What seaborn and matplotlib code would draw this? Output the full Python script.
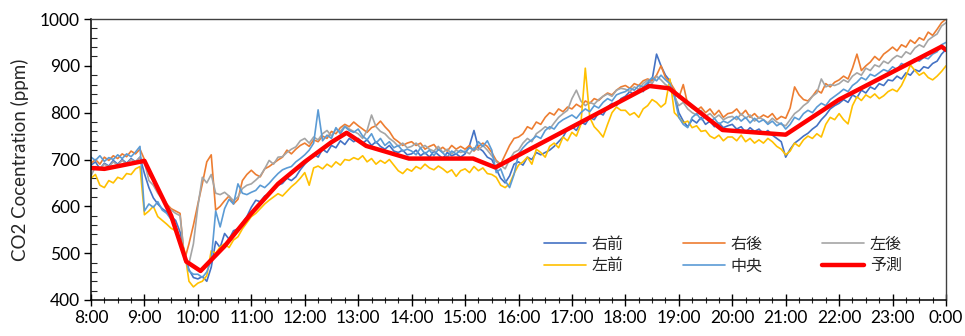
import numpy as np
import pandas as pd
import matplotlib
matplotlib.use("Agg")
import matplotlib.pyplot as plt
from matplotlib.ticker import MultipleLocator, FixedLocator
import seaborn as sns

# ---- data: CO2 readings every 5 minutes from 8:00 to 0:00 (one row per hour) ----
front_right = [  # 右前
    688, 695, 680, 692, 686, 698, 690, 700, 692, 702, 695, 705,
    670, 640, 618, 605, 595, 588, 578, 570, 545, 500, 465, 448,
    445, 450, 440, 470, 525, 512, 542, 530, 548, 552, 565, 578,
    598, 613, 610, 622, 627, 640, 645, 649, 660, 655, 663, 678,
    690, 700, 712, 705, 722, 715, 730, 725, 740, 732, 745, 738,
    745, 735, 742, 730, 738, 728, 722, 730, 718, 715, 720, 710,
    712, 720, 708, 715, 705, 718, 710, 702, 715, 708, 712, 705,
    712, 730, 762, 725, 718, 705, 700, 680, 660, 650, 665, 690,
    695, 688, 705, 700, 715, 710, 715, 720, 728, 738, 748, 765,
    770, 762, 780, 775, 790, 785, 800, 795, 812, 820, 815, 830,
    835, 845, 838, 850, 845, 862, 870, 925, 900, 880, 868, 840,
    800, 782, 770, 785, 778, 790, 775, 782, 770, 778, 768, 772,
    775, 765, 770, 758, 768, 760, 765, 755, 762, 752, 745, 738,
    705, 722, 735, 742, 750, 756, 765, 772, 785, 795, 808, 815,
    820, 828, 822, 838, 832, 848, 842, 855, 850, 862, 858, 870,
    868, 878, 872, 885, 880, 892, 888, 898, 895, 905, 910, 925,
    935,
]
rear_right = [  # 右後
    692, 700, 690, 705, 698, 708, 702, 712, 706, 718, 712, 722,
    700, 668, 655, 635, 622, 605, 595, 590, 585, 485, 520, 560,
    605, 648, 695, 710, 592, 600, 612, 622, 605, 615, 655, 668,
    677, 668, 663, 680, 685, 692, 699, 705, 720, 712, 722, 730,
    735, 728, 742, 738, 750, 745, 760, 755, 768, 775, 770, 780,
    772, 765, 758, 768, 772, 782, 770, 760, 745, 738, 730, 735,
    738, 730, 735, 722, 728, 732, 720, 726, 718, 730, 722, 728,
    722, 730, 718, 728, 735, 728, 715, 698, 690, 710, 730, 745,
    748, 755, 770, 765, 780, 775, 790, 800, 795, 808, 802, 812,
    808, 818, 812, 825, 820, 830, 826, 835, 842, 838, 848, 855,
    858, 852, 862, 858, 868, 872, 868, 880, 900, 875, 865, 850,
    832, 860, 818, 810, 805, 812, 800, 808, 795, 805, 790, 798,
    800, 808, 795, 805, 790, 798, 788, 795, 790, 798, 785, 792,
    788, 810, 855, 838, 828, 825, 835, 848, 842, 862, 855, 865,
    870, 878, 872, 895, 925, 890, 900, 908, 920, 912, 925, 932,
    940, 932, 945, 940, 955, 948, 960, 955, 972, 965, 978, 992,
    1000,
]
rear_left = [  # 左後
    665, 685, 680, 690, 684, 695, 688, 698, 690, 700, 694, 705,
    695, 655, 645, 628, 615, 600, 592, 585, 580, 490, 478, 520,
    600, 662, 650, 668, 628, 625, 630, 622, 612, 620, 638, 645,
    648, 656, 665, 680, 698, 690, 705, 706, 715, 722, 727, 740,
    745, 735, 748, 742, 755, 762, 750, 765, 760, 772, 765, 760,
    755, 745, 762, 795, 770, 760, 755, 745, 738, 728, 735, 725,
    728, 735, 725, 730, 722, 718, 728, 715, 722, 712, 720, 715,
    718, 712, 725, 720, 730, 720, 708, 695, 688, 680, 700, 715,
    720, 735, 745, 738, 755, 762, 770, 765, 778, 790, 798, 805,
    830, 848, 825, 815, 822, 818, 828, 835, 840, 835, 848, 852,
    850, 845, 855, 850, 862, 870, 862, 878, 870, 860, 855, 835,
    815, 822, 808, 800, 795, 805, 792, 798, 788, 795, 785, 790,
    792, 785, 798, 788, 795, 782, 790, 785, 778, 788, 780, 775,
    772, 785, 798, 805, 815, 822, 835, 842, 872, 855, 860, 858,
    862, 870, 865, 878, 885, 880, 895, 890, 902, 898, 910, 905,
    915, 922, 918, 930, 925, 938, 945, 940, 955, 962, 968, 985,
    992,
]
front_left = [  # 左前
    660, 668, 645, 640, 655, 650, 662, 658, 670, 668, 680, 685,
    582, 590, 600, 578, 570, 562, 553, 548, 530, 505, 440, 428,
    436, 440, 452, 505, 500, 513, 520, 512, 528, 535, 552, 565,
    578, 585, 595, 605, 613, 620, 627, 622, 632, 642, 650, 660,
    672, 645, 682, 686, 680, 690, 684, 695, 688, 700, 698, 704,
    700, 708, 695, 702, 690, 698, 692, 700, 688, 676, 670, 680,
    675, 685, 680, 690, 682, 678, 686, 680, 672, 678, 664, 676,
    680, 672, 685, 676, 682, 670, 668, 662, 645, 640, 648, 670,
    688, 695, 705, 690, 722, 715, 705, 728, 735, 725, 748, 740,
    758, 750, 775, 895, 790, 770, 760, 748, 775, 800, 812, 805,
    805, 795, 800, 790, 808, 815, 828, 822, 812, 820, 872, 800,
    790, 778, 782, 768, 772, 760, 762, 750, 745, 752, 740, 748,
    748, 740, 752, 738, 745, 735, 742, 735, 745, 738, 728, 722,
    710, 718, 735, 728, 742, 750, 745, 755, 748, 775, 790, 785,
    798, 785, 776, 815, 834, 826, 838, 832, 840, 830, 836, 845,
    850, 845, 858, 878, 902, 890, 880, 886, 875, 870, 878, 888,
    900,
]
center = [  # 中央
    705, 698, 708, 696, 704, 700, 710, 702, 712, 706, 716, 728,
    590, 605, 598, 610, 592, 585, 572, 560, 528, 495, 462, 455,
    455, 448, 460, 485, 590, 556, 595, 615, 605, 648, 628, 625,
    630, 634, 645, 640, 649, 660, 670, 678, 682, 685, 695, 702,
    710, 720, 735, 806, 740, 752, 745, 768, 755, 770, 762, 758,
    765, 750, 742, 755, 735, 745, 730, 738, 725, 730, 718, 722,
    718, 710, 725, 712, 720, 708, 722, 714, 705, 718, 712, 720,
    715, 725, 720, 738, 728, 740, 720, 672, 680, 655, 640, 668,
    712, 725, 735, 742, 750, 745, 762, 770, 765, 778, 785, 790,
    795, 788, 800, 808, 802, 815, 810, 822, 830, 825, 838, 842,
    845, 852, 848, 858, 855, 865, 875, 868, 880, 870, 862, 835,
    790, 775, 768, 790, 798, 785, 792, 780, 788, 775, 782, 778,
    785, 792, 782, 790, 778, 788, 780, 785, 775, 782, 772, 778,
    765, 775, 790, 785, 798, 805, 800, 812, 820, 815, 828, 835,
    842, 850, 845, 858, 865, 875, 870, 882, 878, 885, 892, 888,
    898, 892, 905, 900, 908, 915, 910, 918, 915, 925, 930, 945,
    950,
]

# model prediction (piecewise)
pred_times = ["8:00", "8:15", "9:00", "9:30", "9:47", "10:03", "10:30", "11:00",
              "11:30", "12:00", "12:30", "12:47", "13:09", "13:57", "15:09",
              "15:34", "18:27", "18:49", "19:49", "21:00", "22:00", "23:55", "24:00"]
pred_values = [682, 680, 697, 580, 482, 462, 515, 585, 648, 695, 737, 757, 729,
               702, 702, 683, 857, 852, 763, 753, 828, 941, 934]

series_names = ["右前", "右後", "左後", "左前", "中央"]
series_colors = ["#4472C4", "#ED7D31", "#A5A5A5", "#FFC000", "#5B9BD5"]
pred_name = "予測"
pred_color = "#FF0000"

hour_ticks = list(range(8, 25))
hour_labels = [f"{h % 24}:00" for h in hour_ticks]


def to_hours(s):
    h, m = s.split(":")
    return int(h) + int(m) / 60.0


# ---- long-form table for seaborn ----
t_hours = 8 + np.arange(len(center)) * 5 / 60.0
frames = []
for name, vals in zip(series_names, [front_right, rear_right, rear_left, front_left, center]):
    frames.append(pd.DataFrame({"time": t_hours, "ppm": vals, "sensor": name}))
df = pd.concat(frames, ignore_index=True)
pred_df = pd.DataFrame({"time": [to_hours(s) for s in pred_times], "ppm": pred_values})

# ---- figure ----
sns.set_style("white")
plt.rcParams["font.family"] = ["Lato", "Noto Sans CJK JP", "DejaVu Sans"]

fig = plt.figure(figsize=(9.65, 3.36), dpi=100)
ax = fig.add_axes([91 / 965, 36 / 336, (946 - 91) / 965, (317 - 36) / 336])

for name, color in zip(series_names, series_colors):
    sns.lineplot(data=df[df["sensor"] == name], x="time", y="ppm", color=color,
                 linewidth=1.2, label=name, ax=ax, legend=False, estimator=None)
sns.lineplot(data=pred_df, x="time", y="ppm", color=pred_color, linewidth=3.2,
             label=pred_name, ax=ax, legend=False, estimator=None)

ax.set_xlim(8, 24)
ax.set_ylim(400, 1000)
ax.xaxis.set_major_locator(FixedLocator(hour_ticks))
ax.set_xticklabels(hour_labels)
ax.xaxis.set_minor_locator(MultipleLocator(0.25))
ax.yaxis.set_major_locator(MultipleLocator(100))
ax.yaxis.set_minor_locator(MultipleLocator(20))

ax.tick_params(axis="x", which="major", direction="inout", length=9, width=1.0,
               labelsize=12.5, colors="black", pad=3)
ax.tick_params(axis="x", which="minor", direction="inout", length=5, width=0.8)
ax.tick_params(axis="y", which="major", direction="out", length=5, width=1.0,
               labelsize=12.5, colors="black", pad=3)
ax.tick_params(axis="y", which="minor", direction="in", length=4, width=0.8)
ax.tick_params(which="both", bottom=True, left=True, top=False, right=False)

ax.set_xlabel("")
ax.set_ylabel("CO2 Cocentration (ppm)", fontsize=13.5, labelpad=8)

for side in ["left", "bottom"]:
    ax.spines[side].set_color("black")
    ax.spines[side].set_linewidth(1.1)
for side in ["top", "right"]:
    ax.spines[side].set_color("#404040")
    ax.spines[side].set_linewidth(1.0)
ax.grid(False)

handles, labels = ax.get_legend_handles_labels()
lookup = dict(zip(labels, handles))
order = ["右前", "左前", "右後", "中央", "左後", "予測"]
ax.legend([lookup[k] for k in order], order, ncol=3, frameon=False,
          loc="lower left", bbox_to_anchor=(0.513, 0.04),
          prop={"family": ["Noto Sans CJK JP", "DejaVu Sans"], "size": 11.5},
          handlelength=2.6, handletextpad=0.4, columnspacing=3.7,
          labelspacing=0.3)

fig.savefig("out.png", dpi=100)
